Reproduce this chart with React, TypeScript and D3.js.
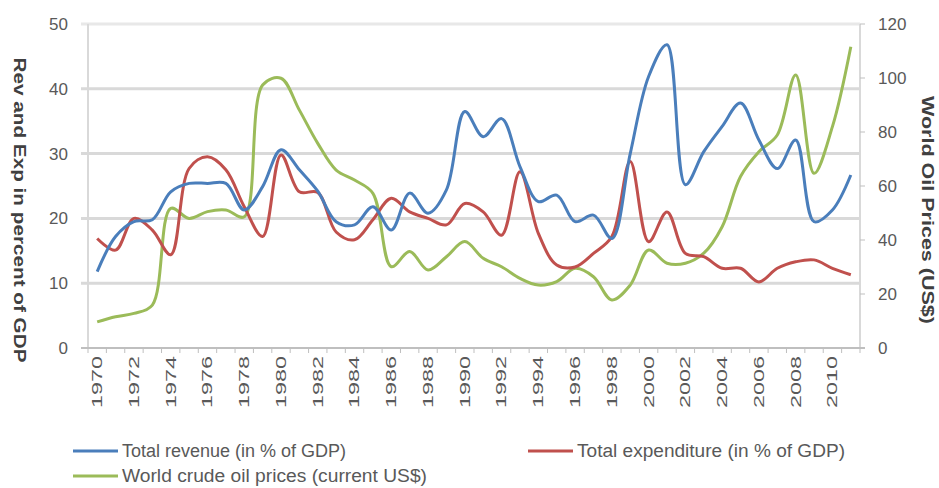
import * as d3 from "d3";

const years = d3.range(1970, 2012);

// Total revenue, % of GDP
const revenue = [
  11.8, 17.2, 19.5, 19.8, 24.1, 25.4, 25.4, 25.4, 21.3, 24.9,
  30.6, 27.5, 24.2, 19.5, 19.0, 21.8, 18.2, 23.9, 20.8, 24.4,
  36.5, 32.6, 35.4, 28.0, 22.6, 23.6, 19.5, 20.5, 16.9, 30.0,
  41.9, 46.8, 25.2, 30.3, 34.2, 37.8, 32.1, 27.7, 32.1, 19.5,
  21.3, 26.7,
];

// Total expenditure, % of GDP
const expenditure = [
  16.9, 15.1, 20.0, 18.2, 14.4, 27.7, 29.5, 27.5, 21.8, 17.2,
  29.8, 24.1, 24.0, 17.9, 16.7, 19.8, 23.1, 21.0, 20.0, 19.0,
  22.3, 21.0, 17.4, 27.2, 17.7, 12.8, 12.5, 14.6, 17.2, 28.8,
  16.4, 21.0, 14.6, 14.1, 12.3, 12.3, 10.2, 12.3, 13.3, 13.6,
  12.3, 11.3,
];

// World crude oil prices, current US$
const oilPrice = [
  9.7, 11.6, 12.8, 15.9, 51.7, 48.0, 50.5, 51.1, 48.6, 97.4,
  99.9, 88.1, 75.8, 65.9, 62.2, 57.3, 30.1, 35.7, 28.9, 33.8,
  39.4, 33.2, 30.1, 25.8, 23.3, 24.6, 29.5, 26.4, 17.8, 23.3,
  36.3, 31.4, 31.4, 35.1, 44.9, 63.5, 72.7, 78.9, 101.1, 64.7,
  82.0, 111.6,
];

const leftTicks = [0, 10, 20, 30, 40, 50];
const rightTicks = [0, 20, 40, 60, 80, 100, 120];

const W = 939;
const H = 488;
const plot = { left: 88, right: 860, top: 24, bottom: 348 };

const BLUE = "#4a7ebb";
const RED = "#c0504d";
const GREEN = "#9bbb59";
const TEXT = "#595959";

export default function App() {
  const x = d3.scaleBand<number>().domain(years).range([plot.left, plot.right]);
  const cx = (yr: number) => (x(yr) as number) + x.bandwidth() / 2;
  const yL = d3.scaleLinear().domain([0, 50]).range([plot.bottom, plot.top]);
  const yR = d3.scaleLinear().domain([0, 120]).range([plot.bottom, plot.top]);

  const curve = d3.curveCatmullRom.alpha(0.5);
  const lineL = d3.line<number>().x((_, i) => cx(years[i])).y(d => yL(d)).curve(curve);
  const lineR = d3.line<number>().x((_, i) => cx(years[i])).y(d => yR(d)).curve(curve);

  const font = "'Liberation Sans', Arial, sans-serif";

  return (
    <svg width={W} height={H} style={{ position: "absolute", left: 0, top: 0 }} fontFamily={font}>
      <rect width={W} height={H} fill="#fff" />

      {/* gridlines */}
      {leftTicks.filter(t => t > 0).map(t => (
        <line key={t} x1={plot.left - 7} x2={plot.right} y1={yL(t)} y2={yL(t)}
              stroke={t === 50 ? "#e8e8e8" : "#d9d9d9"} strokeWidth={3} />
      ))}

      {/* axes */}
      <line x1={plot.left} x2={plot.left} y1={plot.top} y2={plot.bottom} stroke="#d9d9d9" strokeWidth={2} />
      <line x1={plot.right} x2={plot.right} y1={plot.top} y2={plot.bottom} stroke="#d9d9d9" strokeWidth={2} />
      {rightTicks.map(t => (
        <line key={t} x1={plot.right} x2={plot.right + 5} y1={yR(t)} y2={yR(t)} stroke="#bfbfbf" />
      ))}
      <line x1={plot.left - 7} x2={plot.right + 5} y1={plot.bottom} y2={plot.bottom} stroke="#bfbfbf" strokeWidth={2} />
      {years.concat([2012]).map((yr, i) => {
        const xx = plot.left + i * x.step();
        return <line key={yr} x1={xx} x2={xx} y1={plot.bottom} y2={plot.bottom + 5} stroke="#bfbfbf" />;
      })}

      {/* left tick labels */}
      {leftTicks.map(t => (
        <text key={t} x={68} y={yL(t)} dy="0.35em" textAnchor="end" fontSize={17} fill={TEXT}>{t}</text>
      ))}
      {/* right tick labels */}
      {rightTicks.map(t => (
        <text key={t} x={878} y={yR(t)} dy="0.35em" textAnchor="start" fontSize={17} fill={TEXT}>{t}</text>
      ))}

      {/* x tick labels */}
      {years.filter(yr => yr % 2 === 0).map(yr => (
        <text key={yr} transform={`translate(${cx(yr)},${plot.bottom + 8}) rotate(-90)`}
              dy="0.35em" textAnchor="end" fontSize={14} fill={TEXT}
              textLength={52} lengthAdjust="spacingAndGlyphs">{yr}</text>
      ))}

      {/* axis titles */}
      <text transform={`translate(20,210) rotate(90)`} textAnchor="middle"
            dy="0.35em" fontSize={16} fontWeight="bold" fill="#404040"
            textLength={305} lengthAdjust="spacingAndGlyphs">Rev and Exp in percent of GDP</text>
      <text transform={`translate(928,210) rotate(90)`} textAnchor="middle"
            dy="0.35em" fontSize={16} fontWeight="bold" fill="#404040"
            textLength={228} lengthAdjust="spacingAndGlyphs">World Oil Prices (US$)</text>

      {/* series */}
      <path d={lineR(oilPrice) as string} fill="none" stroke={GREEN} strokeWidth={3} />
      <path d={lineL(expenditure) as string} fill="none" stroke={RED} strokeWidth={3} />
      <path d={lineL(revenue) as string} fill="none" stroke={BLUE} strokeWidth={3} />

      {/* legend */}
      <line x1={73} x2={118} y1={451} y2={451} stroke={BLUE} strokeWidth={3} />
      <text x={122} y={451} dy="0.35em" fontSize={18} fill={TEXT}>Total revenue (in % of GDP)</text>
      <line x1={528} x2={573} y1={451} y2={451} stroke={RED} strokeWidth={3} />
      <text x={577} y={451} dy="0.35em" fontSize={18} fill={TEXT}
            textLength={268} lengthAdjust="spacingAndGlyphs">Total expenditure (in % of GDP)</text>
      <line x1={73} x2={118} y1={476} y2={476} stroke={GREEN} strokeWidth={3} />
      <text x={122} y={476} dy="0.35em" fontSize={18} fill={TEXT}
            textLength={305} lengthAdjust="spacingAndGlyphs">World crude oil prices (current US$)</text>
    </svg>
  );
}
